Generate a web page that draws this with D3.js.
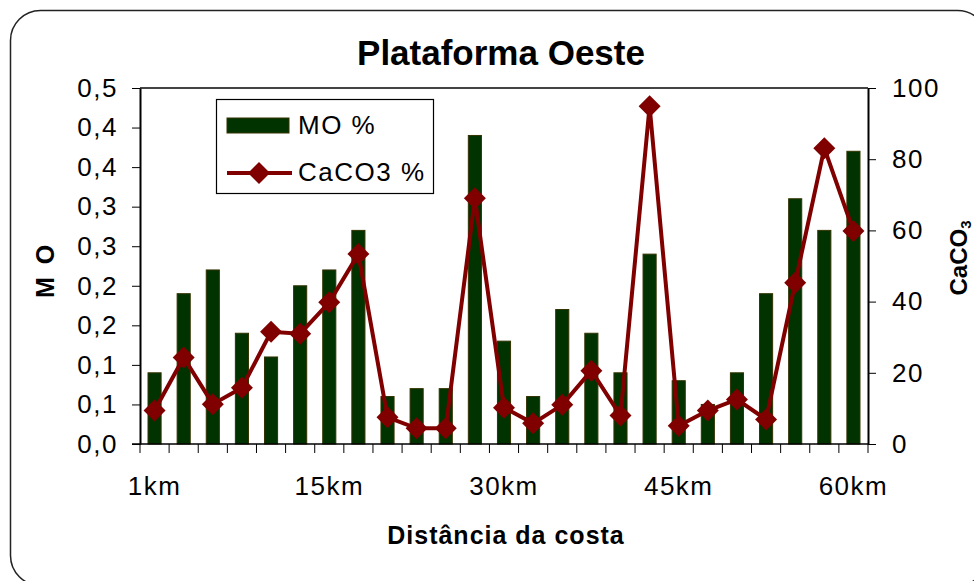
<!DOCTYPE html>
<html>
<head>
<meta charset="utf-8">
<script src="https://cdn.jsdelivr.net/npm/d3@7"></script>
<style>
  body { margin: 0; background: #fff; }
  text { font-family: "Liberation Sans", Arial, sans-serif; fill: #000; }
</style>
</head>
<body>
<svg id="chart" width="974" height="581"></svg>
<script>
// categories (25 stations), only every 6th one gets a label
var stations = d3.range(25);
var tickLabels = ["1km", "15km", "30km", "45km", "60km"];
var tickEvery = 6;

// MO % (left axis)
var moValues = [0.09, 0.19, 0.22, 0.14, 0.11, 0.20, 0.22, 0.27, 0.06, 0.07,
                0.07, 0.39, 0.13, 0.06, 0.17, 0.14, 0.09, 0.24, 0.08, 0.05,
                0.09, 0.19, 0.31, 0.27, 0.37];
// CaCO3 % (right axis)
var caco3Values = [9.4, 24.3, 11.2, 15.8, 31.5, 31.0, 39.8, 53.4, 7.5, 4.4,
                   4.4, 69.0, 10.2, 5.8, 11.0, 20.6, 8.0, 94.9, 5.1, 9.4,
                   12.5, 6.9, 45.3, 83.1, 59.8];
var leftTicks = [0, 0.05, 0.10, 0.15, 0.20, 0.25, 0.30, 0.35, 0.40, 0.45];
var rightTicks = [0, 20, 40, 60, 80, 100];

var svg = d3.select("#chart");
var pLeft = 140, pRight = 868, pTop = 88, pBottom = 444;

var barColor = "#003300", barEdge = "#333300", lineColor = "#800000";
var tickFont = "26px";

// outer frame
svg.append("rect")
  .attr("x", 10.5).attr("y", 10.5)
  .attr("width", 977).attr("height", 575)
  .attr("rx", 30).attr("ry", 30)
  .attr("fill", "none").attr("stroke", "#222").attr("stroke-width", 1.5);

var x = d3.scaleBand().domain(stations).range([pLeft, pRight]).padding(0);
var yL = d3.scaleLinear().domain([0, 0.45]).range([pBottom, pTop]);
var yR = d3.scaleLinear().domain([0, 100]).range([pBottom, pTop]);

// plot area top border
svg.append("line")
  .attr("x1", pLeft).attr("x2", pRight).attr("y1", pTop).attr("y2", pTop)
  .attr("stroke", "#444").attr("stroke-width", 2);

// bars
var bw = x.bandwidth() * 0.45;
svg.append("g").selectAll("rect")
  .data(moValues)
  .join("rect")
  .attr("x", function(d, i) { return x(i) + (x.bandwidth() - bw) / 2; })
  .attr("y", function(d) { return yL(d); })
  .attr("width", bw)
  .attr("height", function(d) { return pBottom - yL(d); })
  .attr("fill", barColor)
  .attr("stroke", barEdge).attr("stroke-width", 1);

// left axis
var gL = svg.append("g").attr("transform", "translate(" + pLeft + ",0)")
  .call(d3.axisLeft(yL).tickValues(leftTicks).tickSize(8).tickSizeOuter(0)
    .tickFormat(function(d) { return d3.format(".1f")(d + 1e-9).replace(".", ","); }));
// right axis
var gR = svg.append("g").attr("transform", "translate(" + pRight + ",0)")
  .call(d3.axisRight(yR).tickValues(rightTicks).tickSize(8).tickSizeOuter(0));
// bottom axis: ticks on band boundaries
var gB = svg.append("g").attr("transform", "translate(0," + pBottom + ")");
gB.append("line").attr("x1", pLeft - 8).attr("x2", pRight).attr("stroke", "#000").attr("stroke-width", 1.5);
gB.selectAll("line.tk")
  .data(d3.range(stations.length + 1))
  .join("line").attr("class", "tk")
  .attr("x1", function(i) { return pLeft + i * x.step(); })
  .attr("x2", function(i) { return pLeft + i * x.step(); })
  .attr("y1", 0).attr("y2", 9)
  .attr("stroke", "#000").attr("stroke-width", 1);
gB.selectAll("text")
  .data(tickLabels)
  .join("text")
  .attr("x", function(d, i) { return x(i * tickEvery) + x.bandwidth() / 2; })
  .attr("y", 51)
  .attr("text-anchor", "middle")
  .style("font-size", tickFont).style("letter-spacing", "1.5px")
  .text(function(d) { return d; });

[gL, gR].forEach(function(g) {
  g.select(".domain").attr("stroke", "#000").attr("stroke-width", 2);
  g.selectAll(".tick line").attr("stroke", "#000").attr("stroke-width", 1);
  g.selectAll(".tick text").style("font-size", tickFont).style("letter-spacing", "1.5px")
    .style("font-family", "'Liberation Sans', Arial, sans-serif").attr("fill", "#000");
});
gL.selectAll(".tick text").attr("x", -22);
gR.selectAll(".tick text").attr("x", 24);

// CaCO3 line
var line = d3.line()
  .x(function(d, i) { return x(i) + x.bandwidth() / 2; })
  .y(function(d) { return yR(d); });
svg.append("path")
  .datum(caco3Values)
  .attr("d", line)
  .attr("fill", "none").attr("stroke", lineColor).attr("stroke-width", 4)
  .attr("stroke-linejoin", "miter");

var diamond = function(cx, cy, r) {
  return "M" + cx + "," + (cy - r) + "L" + (cx + r) + "," + cy + "L" + cx + "," + (cy + r) + "L" + (cx - r) + "," + cy + "Z";
};
svg.append("g").selectAll("path")
  .data(caco3Values)
  .join("path")
  .attr("d", function(d, i) { return diamond(x(i) + x.bandwidth() / 2, yR(d), 11); })
  .attr("fill", lineColor);

// legend
var lg = svg.append("g");
lg.append("rect").attr("x", 216.5).attr("y", 99.5).attr("width", 217).attr("height", 94)
  .attr("fill", "#fff").attr("stroke", "#000").attr("stroke-width", 1.2);
lg.append("rect").attr("x", 227).attr("y", 118).attr("width", 62).attr("height", 15)
  .attr("fill", barColor).attr("stroke", barEdge).attr("stroke-width", 1);
lg.append("line").attr("x1", 227).attr("x2", 292).attr("y1", 173).attr("y2", 173)
  .attr("stroke", lineColor).attr("stroke-width", 4);
lg.append("path").attr("d", diamond(259, 173, 11)).attr("fill", lineColor);
lg.append("text").attr("x", 298).attr("y", 134)
  .style("font-size", tickFont).style("letter-spacing", "1.5px").text("MO %");
lg.append("text").attr("x", 298).attr("y", 181)
  .style("font-size", tickFont).style("letter-spacing", "1.5px").text("CaCO3 %");

// title and axis titles
svg.append("text").attr("x", 501).attr("y", 65).attr("text-anchor", "middle")
  .style("font-size", "35px").style("font-weight", "bold").text("Plataforma Oeste");
svg.append("text").attr("x", 506).attr("y", 544).attr("text-anchor", "middle")
  .style("font-size", "25px").style("font-weight", "bold").style("letter-spacing", "1px")
  .text("Distância da costa");
svg.append("text")
  .attr("transform", "translate(54,270) rotate(-90)")
  .attr("text-anchor", "middle")
  .style("font-size", "25px").style("font-weight", "bold").style("letter-spacing", "3px")
  .text("M O");
var rt = svg.append("text")
  .attr("transform", "translate(967,258) rotate(-90)")
  .attr("text-anchor", "middle")
  .style("font-size", "24px").style("font-weight", "bold");
rt.append("tspan").text("CaCO");
rt.append("tspan").attr("dy", 4).style("font-size", "15px").text("3");
</script>
</body>
</html>
